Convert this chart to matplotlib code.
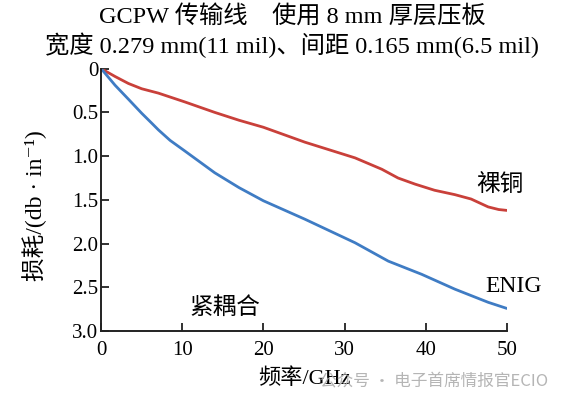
import matplotlib
matplotlib.use("Agg")
import matplotlib.pyplot as plt

FAM = ['Liberation Serif', 'Noto Sans CJK SC', 'DejaVu Serif']
plt.rcParams['font.family'] = FAM

title_lines = ["GCPW 传输线    使用 8 mm 厚层压板",
               "宽度 0.279 mm(11 mil)、间距 0.165 mm(6.5 mil)"]

freq_cu = [0, 1.72, 3.37, 5, 7.06, 10.3, 14, 17, 20, 25.1, 31.3, 34.6, 36.6, 38.7, 41.1,
           43.6, 45.6, 47.7, 49, 50]
loss_cu = [0, 0.09, 0.17, 0.23, 0.28, 0.38, 0.50, 0.59, 0.67, 0.84, 1.02, 1.15, 1.25, 1.32, 1.39,
           1.44, 1.49, 1.58, 1.61, 1.62]

freq_enig = [0, 1.72, 3.37, 5, 6.2, 7.06, 8.5, 10.3, 14, 17, 20, 25.1, 31.3, 35.4, 39.5, 43.6,
             47.7, 50]
loss_enig = [0, 0.19, 0.35, 0.51, 0.62, 0.70, 0.82, 0.94, 1.19, 1.36, 1.51, 1.72, 1.99, 2.20,
             2.35, 2.52, 2.67, 2.74]

xticks = [0, 10, 20, 30, 40, 50]
yticks = [0, 0.5, 1.0, 1.5, 2.0, 2.5, 3.0]
ytick_labels = ["0", "0.5", "1.0", "1.5", "2.0", "2.5", "3.0"]

fig = plt.figure(figsize=(5.65, 3.99), dpi=100)
ax = fig.add_axes([0.179, 0.170, 0.718, 0.658])

ax.plot(freq_cu, loss_cu, color='#c9403a', lw=2.0, solid_capstyle='round', solid_joinstyle='round')
ax.plot(freq_enig, loss_enig, color='#3f7cc4', lw=2.0, solid_capstyle='round', solid_joinstyle='round')

ax.set_xlim(0, 50)
ax.set_ylim(3.0, 0)
ax.set_xticks(xticks)
ax.set_yticks(yticks)
ax.set_yticklabels(ytick_labels)
ax.tick_params(direction='in', length=6, width=1.3, labelsize=15, pad=2, color='#222222')
ax.tick_params(axis='x', pad=7)
for s in ['top', 'right']:
    ax.spines[s].set_visible(False)
for s in ['left', 'bottom']:
    ax.spines[s].set_linewidth(1.4)
    ax.spines[s].set_color('#222222')

ax.set_xlabel("频率/GHz", fontsize=16, labelpad=6)
ax.set_ylabel("损耗/(db · in⁻¹)", fontsize=17)
ax.yaxis.set_label_coords(-0.133, 0.48)

ax.text(49.2, 1.33, "裸铜", fontsize=17, ha='center', va='center')
ax.text(50.8, 2.49, "ENIG", fontsize=17, ha='center', va='center')
ax.text(15.2, 2.73, "紧耦合", fontsize=17, ha='center', va='center')

fig.text(0.517, 0.959, title_lines[0], fontsize=17.5, ha='center', va='center')
fig.text(0.517, 0.886, title_lines[1], fontsize=17.5, ha='center', va='center')

fig.text(0.970, 0.045, "公众号 · 电子首席情报官ECIO", fontsize=12, ha='right', va='center',
         color='#a8a8a8', alpha=0.85, family=['Noto Sans CJK SC'])

fig.savefig("out.png", dpi=100)
